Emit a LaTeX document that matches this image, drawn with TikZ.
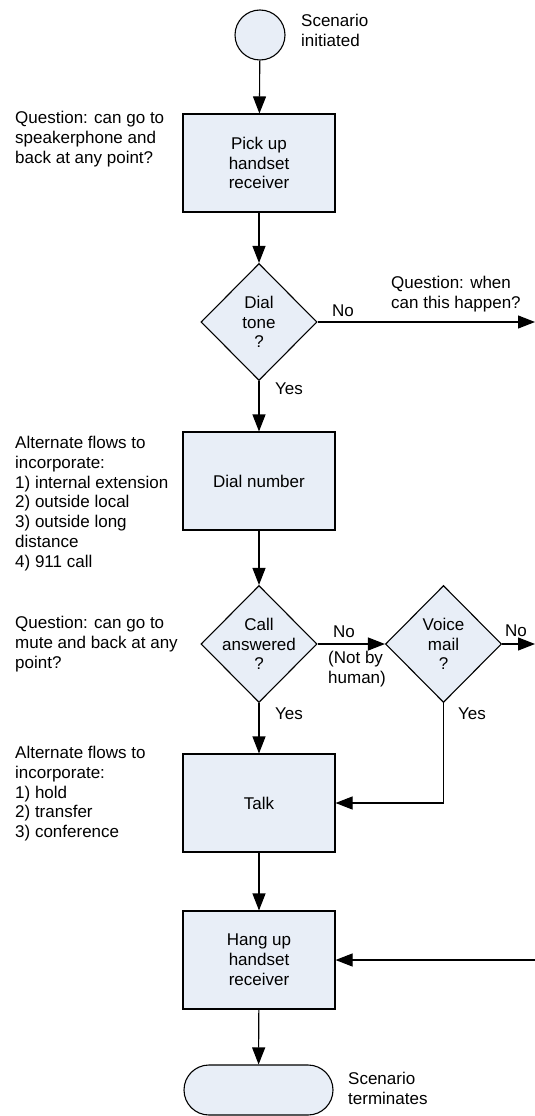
\documentclass[tikz,border=0pt]{standalone}
\usepackage{fontspec}
\setmainfont{Liberation Sans}
\usetikzlibrary{shapes.geometric,arrows.meta}
\definecolor{boxfill}{RGB}{232,238,247}
\begin{document}
\begin{tikzpicture}[x=1pt,y=-1pt,
  font=\fontsize{17}{19.8}\selectfont,
  base/.style={draw=black,line width=1.1pt,fill=boxfill,align=center,inner sep=0pt},
  procbox/.style={base,rectangle,minimum width=152pt,minimum height=98pt},
  decision/.style={base,diamond,minimum width=116pt,minimum height=117pt},
  startnode/.style={base,circle,minimum size=50pt},
  endnode/.style={base,rectangle,rounded corners=25pt,minimum width=149pt,minimum height=50pt},
  note/.style={anchor=north west,align=left,inner sep=0pt},
  lbl/.style={anchor=north west,inner sep=0pt},
  flow/.style={line width=1.1pt,-{Triangle[length=17pt,width=13pt]}}]
\useasboundingbox (0,0) rectangle (535,1116);

% main nodes
\node[startnode] (start) at (260,35) {};
\node[procbox] (p1) at (259,163) {Pick up\\handset\\receiver};
\node[decision] (d1) at (259,322) {};
\node[align=center] at (d1) {Dial\\tone\\?};
\node[procbox] (p2) at (259,481) {Dial number};
\node[decision] (d2) at (259,644) {};
\node[align=center] at (d2) {Call\\answered\\?};
\node[decision] (d3) at (443.5,644) {};
\node[align=center] at (d3) {Voice\\mail\\?};
\node[procbox] (p3) at (259,803) {Talk};
\node[procbox] (p4) at (259,960) {Hang up\\handset\\receiver};
\node[endnode] (stop) at (258.5,1090) {};

\coordinate (o1) at (535,322);
\coordinate (o2) at (535,644);
\coordinate (i1) at (535,960);

% connectors
\draw[flow] (start) -- (p1);
\draw[flow] (p1) -- (d1);
\draw[flow] (d1.east) -- (o1);
\draw[flow] (d1) -- (p2);
\draw[flow] (p2) -- (d2);
\draw[flow] (d2.east) -- (d3.west);
\draw[flow] (d3.east) -- (o2);
\draw[flow] (d2) -- (p3);
\draw[flow] (d3.south) |- (p3.east);
\draw[flow] (p3) -- (p4);
\draw[flow] (i1) -- (p4.east);
\draw[flow] (p4) -- (stop);

% labels
\node[note] (startlbl) at (301,14) {Scenario\\initiated};
\node[note] (stoplbl) at (348,1072) {Scenario\\terminates};
\node[note] (q1) at (15,111) {Question: can go to\\speakerphone and\\back at any point?};
\node[note] (alt1) at (15,436) {Alternate flows to\\incorporate:\\1) internal extension\\2) outside local\\3) outside long\\distance\\4) 911 call};
\node[note] (q2) at (15,616) {Question: can go to\\mute and back at any\\point?};
\node[note] (alt2) at (15,746) {Alternate flows to\\incorporate:\\1) hold\\2) transfer\\3) conference};
\node[note] (q3) at (391,276) {Question: when\\can this happen?};
\node[lbl] (no1) at (332,305) {No};
\node[lbl] (yes1) at (275,383) {Yes};
\node[lbl] (no2) at (333,626) {No};
\node[note] (notby) at (328,651) {(Not by\\human)};
\node[lbl] (yes2) at (275,708) {Yes};
\node[lbl] (no3) at (505,625) {No};
\node[lbl] (yes3) at (458,708) {Yes};
\end{tikzpicture}
\end{document}
